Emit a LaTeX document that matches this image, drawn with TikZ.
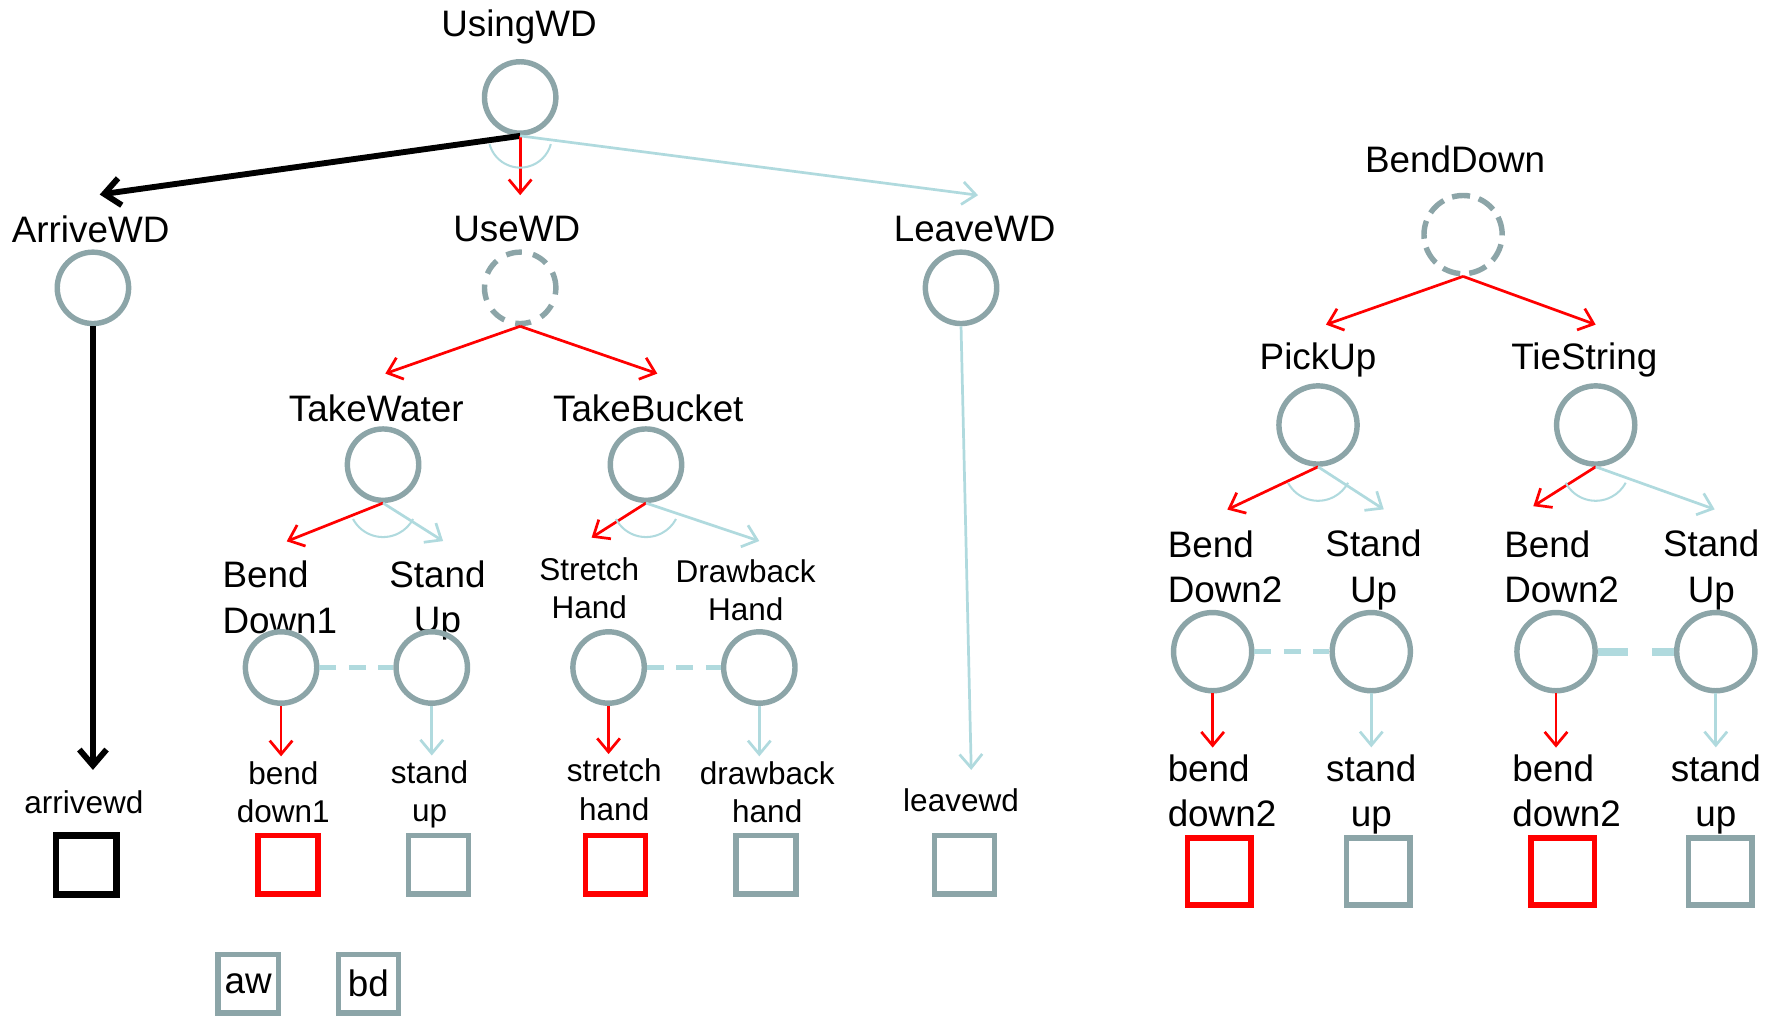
\documentclass[tikz,border=0pt]{standalone}
\usepackage{fontspec}
\setmainfont{Liberation Sans}
\usetikzlibrary{arrows.meta}
\definecolor{taskgray}{RGB}{140,165,168}
\definecolor{linkblue}{RGB}{176,218,222}
\tikzset{
  task/.style={circle,draw=taskgray,line width=2.4pt,minimum size=31.5pt,inner sep=0pt},
  bigtask/.style={task,minimum size=34.5pt},
  opttask/.style={dash pattern=on 7pt off 5pt},
  prim/.style={rectangle,draw=taskgray,line width=2.4pt,minimum width=26.5pt,minimum height=26pt,inner sep=0pt},
  bigprim/.style={prim,minimum width=28pt,minimum height=29.5pt},
  lbl/.style={font=\fontsize{16.25}{20}\selectfont,inner sep=0pt},
  smalllbl/.style={font=\fontsize{13.9}{17}\selectfont,inner sep=0pt},
  redarr/.style={red,line width=1.2pt,-{Straight Barb[length=6pt,width=10pt]}},
  bluearr/.style={linkblue,line width=1.2pt,-{Straight Barb[length=6pt,width=10pt]}},
  blackarr/.style={line width=2.6pt,-{Straight Barb[length=7pt,width=12pt]}},
  seqlink/.style={linkblue,line width=2pt,dash pattern=on 7.5pt off 5.5pt},
  andarc/.style={linkblue,line width=0.9pt}
}
\begin{document}
\begin{tikzpicture}[x=0.5pt,y=-0.5pt]
\useasboundingbox (0,0) rectangle (1568,897);

\node[lbl] (usingwdl) at (458,24) {UsingWD};
\node[task] (usingwd) at (459,86) {};
\node[lbl] (arrivewdl) at (80,202) {ArriveWD};
\node[task] (arrivewd) at (82,254) {};
\node[lbl] (usewdl) at (456,202) {UseWD};
\node[task,opttask] (usewd) at (459,254) {};
\node[lbl] (leavewdl) at (860,202) {LeaveWD};
\node[task] (leavewd) at (848,254) {};

\draw[blackarr] (usingwd.south) -- ([xshift=4pt,yshift=9pt]arrivewdl.north);
\draw[redarr] (usingwd.south) -- ([xshift=1.5pt,yshift=9pt]usewdl.north);
\draw[bluearr] (usingwd.south) -- ([xshift=1.5pt,yshift=9pt]leavewdl.north);
\draw[andarc] ([shift={(195:14pt)}]usingwd.south) arc[start angle=195,end angle=345,radius=14pt];

\node[lbl] (takewaterl) at (332,360) {TakeWater};
\node[task] (takewater) at (338,410) {};
\node[lbl] (takebucketl) at (572,360) {TakeBucket};
\node[task] (takebucket) at (570,410) {};
\draw[redarr] (usewd.south) -- ([xshift=4pt,yshift=9pt]takewaterl.north);
\draw[redarr] (usewd.south) -- ([xshift=4pt,yshift=9pt]takebucketl.north);

\node[lbl,align=left,anchor=west] (benddown1l) at (196,527) {Bend\\Down1};
\node[lbl,align=center] (standup1l) at (386,530) {Stand\\Up};
\node[task] (benddown1) at (248,589) {};
\node[task] (standup1) at (381,589) {};
\draw[redarr] (takewater.south) -- ([xshift=3pt,yshift=8.5pt]benddown1l.north);
\draw[bluearr] (takewater.south) -- ([xshift=2.5pt,yshift=8.5pt]standup1l.north);
\draw[andarc] ([shift={(208:15pt)}]takewater.south) arc[start angle=208,end angle=332,radius=15pt];
\draw[seqlink] (benddown1) -- (standup1);

\node[smalllbl,align=center] (stretchhandl) at (520,519) {Stretch\\Hand};
\node[smalllbl,align=center] (drawbackhandl) at (658,521) {Drawback\\Hand};
\node[task] (stretchhand) at (537,589) {};
\node[task] (drawbackhand) at (670,589) {};
\draw[redarr] (takebucket.south) -- ([xshift=1pt,yshift=8.5pt]stretchhandl.north);
\draw[bluearr] (takebucket.south) -- ([xshift=6pt,yshift=8pt]drawbackhandl.north);
\draw[andarc] ([shift={(208:15pt)}]takebucket.south) arc[start angle=208,end angle=332,radius=15pt];
\draw[seqlink] (stretchhand) -- (drawbackhand);

\node[smalllbl] (arrivewdt) at (74,708) {arrivewd};
\node[prim,draw=black,line width=3pt] (arrivewdb) at (76,763) {};
\node[smalllbl,align=center] (benddown1t) at (250,699) {bend\\down1};
\node[prim,draw=red] (benddown1b) at (254,763) {};
\node[smalllbl,align=center] (standup1t) at (379,701) {stand\\up};
\node[prim] (standup1b) at (387,763) {};
\node[smalllbl,align=center] (stretchhandt) at (542,697) {stretch\\hand};
\node[prim,draw=red] (stretchhandb) at (543,763) {};
\node[smalllbl,align=center] (drawbackhandt) at (677,699) {drawback\\hand};
\node[prim] (drawbackhandb) at (676,763) {};
\node[smalllbl] (leavewdt) at (848,706) {leavewd};
\node[prim] (leavewdb) at (851,763) {};

\draw[blackarr,shorten >=9pt] (arrivewd.south) -- (arrivewd.south |- arrivewdt.north);
\draw[redarr,shorten >=2pt] (benddown1.south) -- (benddown1.south |- benddown1t.north);
\draw[bluearr,shorten >=2pt] (standup1.south) -- (standup1.south |- standup1t.north);
\draw[redarr,shorten >=2pt] (stretchhand.south) -- (stretchhand.south |- stretchhandt.north);
\draw[bluearr,shorten >=2pt] (drawbackhand.south) -- (drawbackhand.south |- drawbackhandt.north);
\draw[bluearr] (leavewd.south) -- ([xshift=4.5pt,yshift=8pt]leavewdt.north);

\node[prim,lbl] (awkey) at (219,868) {aw};
\node[prim,lbl] (bdkey) at (325,868) {bd};

\node[lbl] (benddownl) at (1284,141) {BendDown};
\node[bigtask,dash pattern=on 8pt off 4pt] (benddown) at (1291,207) {};
\node[lbl] (pickupl) at (1163,318) {PickUp};
\node[bigtask] (pickup) at (1163,375) {};
\node[lbl] (tiestringl) at (1398,318) {TieString};
\node[bigtask] (tiestring) at (1408,375) {};
\draw[redarr] (benddown.south) -- ([xshift=3.5pt,yshift=8pt]pickupl.north);
\draw[redarr] (benddown.south) -- ([xshift=5pt,yshift=8pt]tiestringl.north);

\node[lbl,align=left,anchor=west] (bend2al) at (1030,500) {Bend\\Down2};
\node[lbl,align=center] (stand2al) at (1212,503) {Stand\\Up};
\node[bigtask] (bend2a) at (1070,575) {};
\node[bigtask] (stand2a) at (1210,575) {};
\draw[redarr] (pickup.south) -- ([xshift=1pt,yshift=9pt]bend2al.north);
\draw[bluearr] (pickup.south) -- ([xshift=4.5pt,yshift=9pt]stand2al.north);
\draw[andarc] ([shift={(208:15pt)}]pickup.south) arc[start angle=208,end angle=332,radius=15pt];
\draw[seqlink] (bend2a) -- (stand2a);

\node[lbl,align=left,anchor=west] (bend2bl) at (1327,500) {Bend\\Down2};
\node[lbl,align=center] (stand2bl) at (1510,503) {Stand\\Up};
\node[bigtask] (bend2b) at (1373,575) {};
\node[bigtask] (stand2b) at (1514,575) {};
\draw[redarr] (tiestring.south) -- ([xshift=-12.5pt,yshift=10.5pt]bend2bl.north);
\draw[bluearr] (tiestring.south) -- ([xshift=1.5pt,yshift=9pt]stand2bl.north);
\draw[andarc] ([shift={(208:15pt)}]tiestring.south) arc[start angle=208,end angle=332,radius=15pt];
\draw[linkblue,line width=3.5pt,dash pattern=on 13.5pt off 10.5pt] (bend2b) -- (stand2b);

\node[lbl,align=left,anchor=west] (bend2at) at (1030,698) {bend\\down2};
\node[lbl,align=center] (stand2at) at (1210,701) {stand\\up};
\node[bigprim,draw=red] (bend2ab) at (1076,769) {};
\node[bigprim] (stand2ab) at (1216,769) {};
\node[lbl,align=left,anchor=west] (bend2bt) at (1334,698) {bend\\down2};
\node[lbl,align=center] (stand2bt) at (1514,701) {stand\\up};
\node[bigprim,draw=red] (bend2bb) at (1379,769) {};
\node[bigprim] (stand2bb) at (1518,769) {};

\draw[redarr,shorten >=3pt] (bend2a.south) -- (bend2a.south |- bend2at.north);
\draw[bluearr,shorten >=3pt] (stand2a.south) -- (stand2a.south |- stand2at.north);
\draw[redarr,shorten >=3pt] (bend2b.south) -- (bend2b.south |- bend2bt.north);
\draw[bluearr,shorten >=3pt] (stand2b.south) -- (stand2b.south |- stand2bt.north);
\end{tikzpicture}
\end{document}
